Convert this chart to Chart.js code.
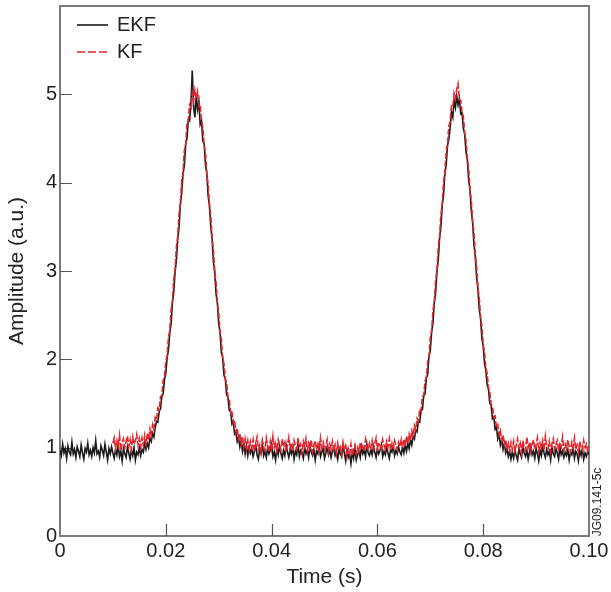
<!DOCTYPE html>
<html>
<head>
<meta charset="utf-8">
<script src="https://cdn.jsdelivr.net/npm/chart.js@4.4.0/dist/chart.umd.min.js"></script>
<style>
  html, body { margin: 0; padding: 0; background: #fff; }
  #wrap { width: 611px; height: 592px; }
</style>
</head>
<body>
<div id="wrap"><canvas id="chart" width="611" height="592"></canvas></div>
<script>
// sampling of both traces (s)
const sampleStep = 0.00025;
const ekfStart = 0;
const kfStart = 0.01;

// EKF amplitude, t = 0 .. 0.1
const ekfValues = [
  0.97, 0.91, 1.04, 0.94, 0.99, 0.88, 1.02, 0.95, 0.92, 1.06,
  0.93, 0.98, 0.89, 1.01, 0.96, 0.90, 1.03, 0.94, 0.87, 0.99,
  0.95, 1.05, 0.92, 0.97, 0.90, 1.00, 0.94, 1.08, 0.93, 0.96,
  0.89, 1.02, 0.97, 0.91, 1.04, 0.95, 0.86, 0.99, 0.93, 1.01,
  0.94, 0.88, 0.98, 0.92, 1.03, 0.90, 0.96, 0.85, 0.99, 0.93,
  0.89, 1.01, 0.94, 0.87, 0.97, 0.91, 1.00, 0.86, 0.95, 0.92,
  1.00, 0.91, 0.98, 0.95, 1.05, 0.98, 1.05, 1.00, 1.11, 1.07,
  1.16, 1.12, 1.23, 1.30, 1.29, 1.41, 1.44, 1.58, 1.61, 1.77,
  1.84, 2.02, 2.10, 2.30, 2.40, 2.64, 2.76, 2.99, 3.12, 3.36,
  3.49, 3.75, 3.88, 4.10, 4.19, 4.43, 4.50, 4.71, 4.70, 4.90,
  5.27, 4.86, 4.74, 4.98, 4.83, 4.92, 4.66, 4.70, 4.47, 4.44,
  4.20, 4.11, 3.85, 3.74, 3.50, 3.37, 3.10, 2.99, 2.74, 2.64,
  2.40, 2.31, 2.08, 2.02, 1.82, 1.78, 1.60, 1.57, 1.42, 1.41,
  1.27, 1.30, 1.16, 1.19, 1.07, 1.12, 1.01, 1.08, 0.96, 1.04,
  0.93, 1.02, 0.91, 1.01, 0.94,
  0.99, 0.90, 0.96, 1.03, 0.92, 0.87, 0.98, 0.94, 1.05, 0.91,
  0.96, 0.89, 1.00, 0.93, 0.97, 1.04, 0.90, 0.95, 0.86, 0.99,
  0.92, 1.02, 0.94, 0.88, 0.97, 0.91, 1.03, 0.95, 0.89, 0.98,
  0.93, 1.01, 0.87, 0.96, 0.92, 1.04, 0.90, 0.97, 0.94, 0.88,
  1.00, 0.93, 0.97, 0.89, 1.02, 0.95, 0.91, 0.98, 0.86, 0.96,
  0.93, 1.03, 0.90, 0.95, 0.99, 0.88, 0.94, 1.01, 0.92, 0.97,
  0.89, 0.96, 1.00, 0.91, 0.95, 0.87, 0.98, 0.93, 0.90, 1.02,
  0.94, 0.85, 0.97, 0.89, 0.93, 0.82, 0.95, 0.88, 0.99, 0.86,
  0.92, 0.96, 0.89, 1.01, 0.93, 0.97, 0.90, 1.04, 0.94, 0.91,
  0.98, 0.92, 1.02, 0.95, 0.89, 0.99, 0.93, 0.97, 1.03, 0.90,
  0.96, 0.92, 1.00, 0.94, 0.88, 0.98, 0.95, 1.02, 0.91, 0.97,
  0.93, 1.01, 0.95,
  0.92, 1.01, 0.94, 1.03, 0.96, 1.05, 0.99, 1.09, 1.03, 1.13,
  1.10, 1.20, 1.18, 1.30, 1.29, 1.42, 1.43, 1.58, 1.61, 1.78,
  1.83, 2.03, 2.10, 2.31, 2.41, 2.64, 2.75, 2.99, 3.12, 3.37,
  3.50, 3.74, 3.86, 4.10, 4.20, 4.42, 4.49, 4.62, 4.80, 4.74,
  4.93, 4.85, 4.98, 4.88, 4.95, 4.78, 4.79, 4.61, 4.55, 4.35,
  4.26, 4.03, 3.92, 3.68, 3.55, 3.30, 3.17, 2.93, 2.80, 2.57,
  2.46, 2.24, 2.15, 1.95, 1.88, 1.71, 1.66, 1.50, 1.48, 1.33,
  1.35, 1.21, 1.24, 1.10, 1.15, 1.03, 1.09, 0.98, 1.05, 0.94,
  0.99, 0.90, 0.96, 0.87, 0.95,
  0.88, 0.97, 0.91, 0.86, 0.99, 0.93, 0.89, 1.01, 0.94, 0.90,
  0.97, 0.87, 0.95, 1.02, 0.92, 0.96, 0.88, 0.99, 0.93, 0.85,
  0.97, 0.91, 1.03, 0.94, 0.89, 0.98, 0.92, 0.96, 0.86, 1.00,
  0.93, 0.90, 0.99, 0.94, 0.87, 1.01, 0.92, 0.96, 0.89, 0.95,
  0.91, 0.98, 0.86, 0.95, 0.92, 1.00, 0.88, 0.96, 0.93, 0.85,
  0.97, 0.91, 0.99, 0.87, 0.94, 0.90, 0.96, 0.92
];

// KF amplitude, t = 0.01 .. 0.1
const kfValues = [
  1.05, 1.11, 0.99, 1.08, 1.02, 1.14, 0.97, 1.06, 1.10, 1.00,
  1.07, 1.13, 1.01, 1.09, 0.98, 1.12, 1.04, 1.08, 1.15, 1.03,
  1.10, 1.01, 1.11, 1.03, 1.14, 1.04, 1.16, 1.09, 1.21, 1.13,
  1.26, 1.21, 1.34, 1.31, 1.45, 1.43, 1.58, 1.59, 1.76, 1.80,
  1.98, 2.04, 2.25, 2.33, 2.56, 2.66, 2.90, 3.01, 3.27, 3.39,
  3.65, 3.76, 4.02, 4.11, 4.36, 4.42, 4.66, 4.69, 4.88, 4.85,
  5.02, 4.93, 5.05, 4.95, 5.03, 4.86, 4.88, 4.70, 4.63, 4.42,
  4.34, 4.10, 3.99, 3.75, 3.62, 3.37, 3.24, 2.99, 2.87, 2.64,
  2.53, 2.31, 2.22, 2.02, 1.95, 1.78, 1.73, 1.57, 1.55, 1.40,
  1.42, 1.28, 1.31, 1.17, 1.22, 1.10, 1.16, 1.05, 1.12, 1.01,
  1.10, 0.99, 1.08, 0.98, 1.07,
  1.00, 1.09, 0.96, 1.05, 1.12, 0.98, 1.03, 0.94, 1.08, 1.01,
  0.97, 1.11, 1.02, 0.95, 1.07, 0.99, 1.13, 1.00, 1.05, 0.96,
  1.09, 1.03, 0.97, 1.10, 1.01, 1.06, 0.95, 1.04, 1.12, 0.99,
  1.05, 0.96, 1.08, 1.02, 0.98, 1.11, 1.00, 1.04, 0.94, 1.07,
  1.01, 1.10, 0.97, 1.05, 0.99, 1.09, 0.95, 1.03, 1.08, 0.98,
  1.04, 0.96, 1.11, 1.00, 1.06, 0.97, 1.02, 1.09, 0.95, 1.04,
  0.99, 1.07, 0.96, 1.03, 0.93, 1.05, 0.98, 1.01, 0.92, 1.06,
  0.97, 1.02, 0.90, 0.99, 0.94, 1.04, 0.91, 0.98, 1.03, 0.93,
  1.00, 0.95, 1.06, 0.98, 1.02, 0.96, 1.09, 1.01, 0.97, 1.05,
  1.00, 1.08, 0.98, 1.04, 1.11, 0.99, 1.06, 1.02, 0.96, 1.09,
  1.03, 0.98, 1.07, 1.01, 1.10, 0.97, 1.05, 1.00, 1.08, 1.03,
  0.98, 1.06, 1.01,
  1.09, 1.00, 1.10, 1.02, 1.13, 1.05, 1.15, 1.08, 1.19, 1.13,
  1.25, 1.20, 1.33, 1.30, 1.44, 1.42, 1.58, 1.59, 1.75, 1.80,
  1.97, 2.03, 2.24, 2.32, 2.55, 2.65, 2.89, 3.00, 3.26, 3.38,
  3.64, 3.75, 4.01, 4.11, 4.35, 4.43, 4.64, 4.69, 4.87, 4.86,
  5.01, 4.95, 5.06, 5.12, 4.94, 4.93, 4.80, 4.75, 4.57, 4.48,
  4.28, 4.16, 3.93, 3.80, 3.57, 3.43, 3.19, 3.05, 2.82, 2.70,
  2.48, 2.37, 2.17, 2.08, 1.90, 1.84, 1.68, 1.63, 1.49, 1.47,
  1.35, 1.36, 1.23, 1.26, 1.14, 1.19, 1.08, 1.14, 1.03, 1.09,
  0.99, 1.05, 0.97, 1.06, 0.98,
  1.07, 0.96, 1.03, 1.10, 0.99, 1.05, 0.94, 1.08, 1.01, 0.97,
  1.12, 1.00, 1.06, 0.95, 1.04, 1.09, 0.98, 1.03, 1.11, 0.96,
  1.05, 1.00, 1.08, 0.97, 1.13, 1.02, 0.99, 1.07, 0.95, 1.04,
  1.10, 0.98, 1.03, 1.08, 0.96, 1.05, 1.01, 1.12, 0.97, 1.04,
  0.99, 1.09, 1.02, 0.95, 1.06, 1.00, 1.11, 0.98, 1.03, 0.94,
  1.07, 1.01, 0.97, 1.08, 1.00, 1.04, 0.96, 1.02
];

const xTicks = [0, 0.02, 0.04, 0.06, 0.08, 0.10];
const yTicks = [0, 1, 2, 3, 4, 5];
const seriesNames = ['EKF', 'KF'];

const FONT = "'Liberation Sans', Arial, Helvetica, sans-serif";
const frameColor = '#7b7b7b';

const toPoints = (vals, start) => vals.map((v, i) => ({x: start + i * sampleStep, y: v}));

// inner tick marks, frame, legend and figure id
const decorations = {
  id: 'decorations',
  beforeDatasetsDraw(chart) {
    const {ctx, chartArea: {left, right, top, bottom}, scales: {x, y}} = chart;
    ctx.save();
    ctx.strokeStyle = frameColor;
    ctx.lineWidth = 2;
    ctx.strokeRect(left, top, right - left, bottom - top);

    ctx.strokeStyle = '#555';
    ctx.lineWidth = 1.2;
    ctx.beginPath();
    xTicks.slice(1, -1).forEach(v => {
      const px = Math.round(x.getPixelForValue(v)) + 0.5;
      ctx.moveTo(px, bottom);
      ctx.lineTo(px, bottom - 12);
    });
    yTicks.slice(1).forEach(v => {
      const py = Math.round(y.getPixelForValue(v)) + 0.5;
      ctx.moveTo(left, py);
      ctx.lineTo(left + 12, py);
    });
    ctx.stroke();
    ctx.restore();
  },
  afterDraw(chart) {
    const {ctx} = chart;
    ctx.save();
    // legend
    ctx.lineWidth = 1.6;
    ctx.strokeStyle = '#1a1a1a';
    ctx.beginPath();
    ctx.moveTo(77, 25);
    ctx.lineTo(108, 25);
    ctx.stroke();
    ctx.strokeStyle = '#e8232b';
    ctx.setLineDash([8, 3]);
    ctx.beginPath();
    ctx.moveTo(77, 52);
    ctx.lineTo(108, 52);
    ctx.stroke();
    ctx.setLineDash([]);
    ctx.fillStyle = '#222';
    ctx.font = '20px ' + FONT;
    ctx.textBaseline = 'middle';
    ctx.textAlign = 'left';
    ctx.fillText(seriesNames[0], 117, 25);
    ctx.fillText(seriesNames[1], 117, 52);

    // figure id along the right edge
    ctx.translate(598, 502);
    ctx.rotate(-Math.PI / 2);
    ctx.font = '12px ' + FONT;
    ctx.textAlign = 'center';
    ctx.fillText('JG09.141-5c', 0, 0);
    ctx.restore();
  }
};

new Chart(document.getElementById('chart'), {
  type: 'line',
  data: {
    datasets: [
      {
        label: seriesNames[1],
        data: toPoints(kfValues, kfStart),
        borderColor: '#e8232b',
        borderWidth: 1.6,
        borderDash: [6, 2],
        pointRadius: 0,
        tension: 0,
        order: 0
      },
      {
        label: seriesNames[0],
        data: toPoints(ekfValues, ekfStart),
        borderColor: '#1a1a1a',
        borderWidth: 1.6,
        pointRadius: 0,
        tension: 0,
        order: 1
      }
    ]
  },
  options: {
    responsive: false,
    animation: false,
    layout: {padding: {top: 6, right: 22, left: 0, bottom: 0}},
    plugins: {
      legend: {display: false},
      tooltip: {enabled: false}
    },
    scales: {
      x: {
        type: 'linear',
        min: 0,
        max: 0.1,
        afterBuildTicks: scale => { scale.ticks = xTicks.map(v => ({value: v})); },
        afterFit: scale => { scale.height = 56; scale.paddingLeft = 0; scale.paddingRight = 0; },
        grid: {display: false, drawTicks: false},
        border: {display: false},
        ticks: {
          padding: 3,
          maxRotation: 0,
          color: '#222',
          font: {family: FONT, size: 20},
          callback: v => (v === 0 ? '0' : v.toFixed(2))
        },
        title: {
          display: true,
          text: 'Time (s)',
          color: '#222',
          font: {family: FONT, size: 21},
          padding: {top: 0, bottom: 2}
        }
      },
      y: {
        min: 0,
        max: 6,
        afterBuildTicks: scale => { scale.ticks = yTicks.map(v => ({value: v})); },
        afterFit: scale => { scale.width = 60; scale.paddingTop = 0; scale.paddingBottom = 0; },
        grid: {display: false, drawTicks: false},
        border: {display: false},
        ticks: {
          padding: 3,
          color: '#222',
          font: {family: FONT, size: 20},
          callback: v => String(v)
        },
        title: {
          display: true,
          text: 'Amplitude (a.u.)',
          color: '#222',
          font: {family: FONT, size: 21},
          padding: {top: 5, bottom: 0}
        }
      }
    }
  },
  plugins: [decorations]
});
</script>
</body>
</html>
